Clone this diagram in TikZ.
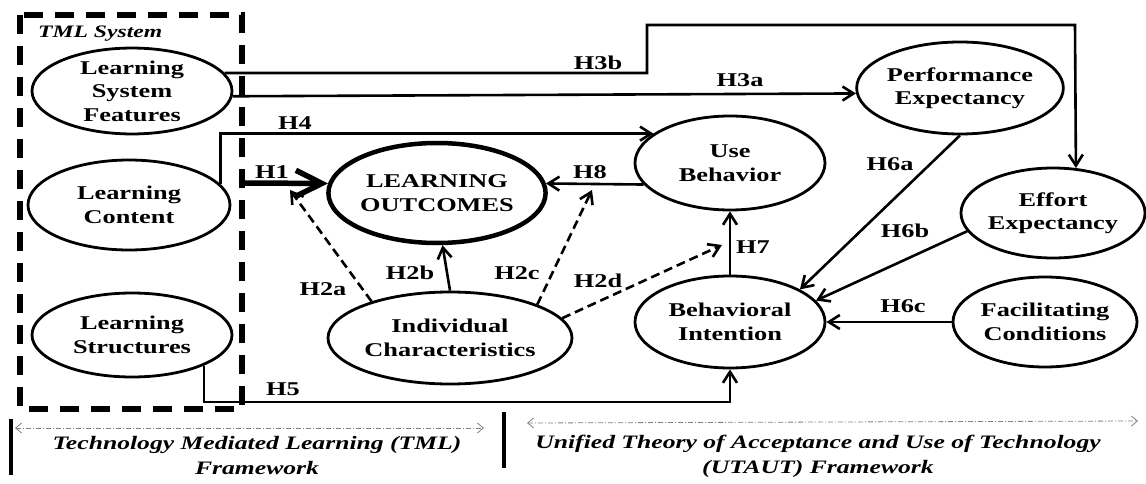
\documentclass[tikz,border=0pt]{standalone}
\usepackage{fontspec}
\setmainfont{Liberation Serif}[FakeStretch=1.35]
\usetikzlibrary{arrows.meta,shapes.geometric,calc}

\begin{document}
\begin{tikzpicture}
[x=1pt,y=-1pt,
construct/.style={shape=ellipse,draw=black,line width=2.8pt,inner sep=0pt,align=center,font=\bfseries\fontsize{19.5}{23.5}\selectfont},
hyp/.style={font=\bfseries\fontsize{19.5}{23}\selectfont,inner sep=0pt},
dedge/.style={line width=2.6pt,-{Straight Barb[length=11pt,width=14pt]}},
dashedge/.style={dedge,dash pattern=on 9pt off 5pt},
frame/.style={line width=5.5pt,dash pattern=on 19pt off 12pt},
span/.style={gray,line width=0.8pt,dash pattern=on 5pt off 2pt on 1pt off 2pt,{Straight Barb[length=6pt,width=10pt]}-{Straight Barb[length=6pt,width=10pt]}},
caption/.style={font=\bfseries\itshape\fontsize{19}{25}\selectfont,align=center,inner sep=0pt}]
\useasboundingbox (0,0) rectangle (1146,484);

% TML system box
\draw[frame] (20,15) rectangle (242,409);
\node[font=\bfseries\itshape\fontsize{17.5}{20}\selectfont,anchor=west,inner sep=0pt] (tmlsys) at (38,34) {TML System};
\coordinate (h1start) at (242,183);

% constructs
\node[construct,minimum width=200pt,minimum height=82pt] (lsf) at (132,91) {Learning\\System\\Features};
\node[construct,minimum width=202pt,minimum height=90pt] (lc) at (129,205) {Learning\\Content};
\node[construct,minimum width=200pt,minimum height=84pt] (ls) at (132,335) {Learning\\Structures};
\node[construct,line width=4.5pt,minimum width=200pt,minimum height=100pt] (lo) at (437,193) {LEARNING\\OUTCOMES};
\node[construct,minimum width=244pt,minimum height=92pt] (ic) at (450,338) {Individual\\Characteristics};
\node[construct,minimum width=190pt,minimum height=94pt] (ub) at (730,163) {Use\\Behavior};
\node[construct,minimum width=190pt,minimum height=92pt] (bi) at (730,322) {Behavioral\\Intention};
\node[construct,minimum width=190pt,minimum height=92pt] (pe) at (960,88) {Performance\\Expectancy};
\node[construct,minimum width=180pt,minimum height=90pt] (ee) at (1053,213) {Effort\\Expectancy};
\node[construct,minimum width=184pt,minimum height=90pt] (fc) at (1045,322) {Facilitating\\Conditions};

% free ends
\coordinate (h3bup) at (647,25);
\coordinate (h3bturn) at (1075,25);
\coordinate (h5low) at (0,402);
\coordinate (h2aend) at (290,190);
\coordinate (h2cend) at (592,190);
\coordinate (h2dend) at (722,245);

% paths
\draw[dedge] (lsf.11) -| (h3bup) -- (h3bturn) -- (ee.63);
\draw[dedge] (lsf.-3) -- (pe.183);
\draw[dedge] (lc.13) |- (ub.159);
\draw[line width=5.5pt,-{Straight Barb[length=26pt,width=26pt]}] (h1start) -- (lo.175);
\draw[dedge] (ub.194) -- (lo.5);
\draw[dashedge] (ic.155) -- (h2aend);
\draw[dedge] (ic.north) -- (lo.-84);
\draw[dashedge] (ic.21) -- (h2cend);
\draw[dashedge] (ic.10) -- (h2dend);
\draw[dedge] (bi.north) -- (ub.south);
\draw[dedge] (pe.south) -- (bi.25);
\draw[dedge] (ee.192) -- (bi.14);
\draw[dedge] (fc.west) -- (bi.east);
\draw[dedge] (ls.-23) |- (h5low -| bi.south) -- (bi.south);

% hypothesis labels
\node[hyp] (lh1) at (272,172) {H1};
\node[hyp] (lh2a) at (323,289) {H2a};
\node[hyp] (lh2b) at (410,273) {H2b};
\node[hyp] (lh2c) at (517,273) {H2c};
\node[hyp] (lh2d) at (598,281) {H2d};
\node[hyp] (lh3a) at (740,80) {H3a};
\node[hyp] (lh3b) at (598,63) {H3b};
\node[hyp] (lh4) at (295,123) {H4};
\node[hyp] (lh5) at (283,389) {H5};
\node[hyp] (lh6a) at (890,164) {H6a};
\node[hyp] (lh6b) at (905,231) {H6b};
\node[hyp] (lh6c) at (903,306) {H6c};
\node[hyp] (lh7) at (753,247) {H7};
\node[hyp] (lh8) at (590,172) {H8};

% framework spans
\foreach \x/\ya/\yb in {11/419/475,504/412/468}
\draw[line width=3.5pt] (\x,\ya) -- (\x,\yb);
\coordinate (tmlL) at (15,428);
\coordinate (tmlR) at (484,428);
\coordinate (utautL) at (527,423);
\coordinate (utautR) at (1138,421);
\draw[span] (tmlL) -- (tmlR);
\draw[span] (utautL) -- (utautR);
\node[caption] (tmlcap) at (257,456) {Technology Mediated Learning (TML)\\Framework};
\node[caption] (utautcap) at (818,456) {Unified Theory of Acceptance and Use of Technology\\(UTAUT) Framework};
\end{tikzpicture}
\end{document}
